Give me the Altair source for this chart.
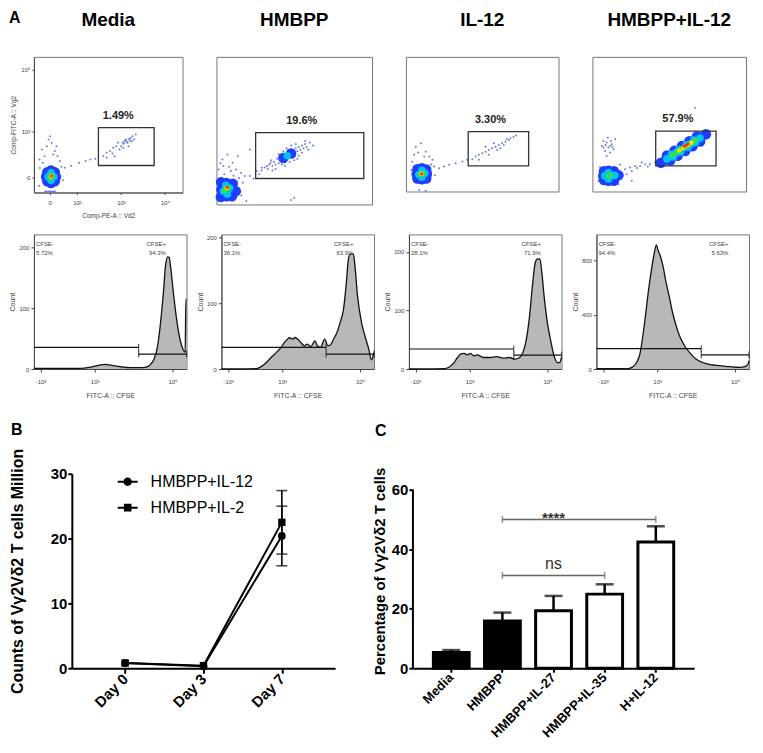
import altair as alt
import pandas as pd

FONT = "Liberation Sans"

# ---------------- Panel A, top row: Vg2 vs Vd2 dot plots (axes in % of frame) ----------------
DOT_TITLES = ["Media", "HMBPP", "IL-12", "HMBPP+IL-12"]
GATE_X1 = [43.4, 25.2, 40.8, 41.2]
GATE_X2 = [80.9, 94.7, 80.4, 80.5]
GATE_Y1 = [19.9, 17.6, 19.0, 19.0]
GATE_Y2 = [47.8, 48.6, 44.4, 44.9]
GATE_PCT = ["1.49%", "19.6%", "3.30%", "57.9%"]

DOT_TICK_X = [10.5, 29.0, 58.6, 88.2]
DOT_TICK_X_LABELS = ["0", "10²", "10³", "10⁴"]
DOT_TICK_Y = [11.0, 22.0, 44.9, 68.4, 90.4]
DOT_TICK_Y_LABELS = ["0", "10²", "10³", "10⁴", "10⁵"]

# density level 0 = single events, 1..5 = pseudo-colour density (blue -> red)
DENSITY_LEVELS = [0, 1, 2, 3, 4, 5]

P1_L0 = [(5.4, 31.7), (8.7, 34.1), (12.0, 36.6), (14.1, 30.5), (7.2, 26.8), (15.9, 26.8), (9.8, 39.0),
         (13.0, 28.0), (3.7, 24.4), (17.4, 23.2), (10.9, 41.5), (15.2, 34.1), (6.0, 22.0), (18.5, 19.0),
         (4.0, 18.0), (19.5, 9.0), (3.5, 5.0), (20.7, 18.3), (25.0, 19.5), (30.4, 22.0), (34.8, 23.2),
         (38.0, 24.4), (41.3, 24.9), (46.7, 26.8), (48.9, 29.3), (51.1, 30.5), (53.3, 32.9), (55.4, 34.1),
         (56.5, 36.6), (58.7, 34.1), (59.8, 36.6), (60.9, 37.8), (62.0, 39.0), (63.0, 36.6), (64.1, 39.5),
         (65.2, 40.2), (66.3, 41.5), (67.4, 39.0), (54.3, 26.8), (57.6, 31.7), (63.7, 34.1), (60.2, 32.9),
         (65.9, 37.8), (48.9, 25.6), (52.8, 28.8), (68.5, 42.7), (61.5, 38.5), (62.5, 37.2), (60.5, 36.0),
         (64.5, 38.2), (7.6, 0.8), (9.8, 0.8), (12.0, 0.8), (14.1, 0.8), (8.7, 0.8), (10.9, 0.8), (13.0, 0.8)]
P1_L1 = [(11.5, 11.6), (8.2, 11.6), (14.8, 11.6), (11.5, 7.0), (11.5, 16.2), (9.0, 8.3), (14.0, 8.3),
         (9.0, 15.0), (14.0, 15.0)]
P1_L2 = [(11.5, 11.6), (9.6, 11.6), (13.4, 11.6), (11.5, 9.0), (11.5, 14.4)]
P1_L3 = [(11.5, 11.6), (11.2, 10.4), (11.8, 12.8)]
P1_L4 = [(11.7, 12.0)]
P1_L5 = [(11.9, 12.2)]

P2_L0 = [(3.8, 30.5), (7.1, 33.9), (10.4, 28.2), (12.6, 23.7), (15.9, 21.4), (13.7, 32.7), (1.5, 23.7),
         (17.0, 14.7), (19.2, 2.3), (21.5, 37.2), (18.1, 19.2), (9.3, 22.6), (5.0, 20.5), (14.5, 18.0),
         (2.5, 28.0), (16.0, 6.0), (8.0, 25.5), (11.0, 19.5), (4.5, 26.0), (21.5, 19.2), (25.9, 22.6),
         (29.2, 24.8), (32.5, 26.0), (34.7, 28.2), (24.0, 17.5), (27.5, 20.5), (29, 23), (31, 25), (33, 24),
         (34, 27), (36, 26), (37, 29), (38, 27), (39, 31), (40, 28), (41, 30), (42, 33), (43, 31), (44, 29),
         (45, 34), (46, 32), (47, 35), (48, 33), (49, 36), (50, 34), (51, 38), (52, 36), (53, 39), (54, 37),
         (55, 40), (56, 38), (57, 41), (58, 39), (50, 30), (46, 37), (40, 34), (35, 30), (53, 33), (43, 36),
         (48, 40), (38, 24), (44, 26), (55, 35), (57, 43), (60, 42), (59, 37), (36, 23), (42, 27), (47, 29),
         (52, 31), (45, 38), (51, 41), (62, 40), (48, 3), (50, 4.5)]
P2_L1 = [(6.4, 10.2), (3.2, 10.0), (9.8, 10.0), (6.4, 5.5), (6.4, 14.5), (10.5, 14.0), (2.8, 5.0),
         (10.0, 5.5), (3.0, 15.0), (12.5, 9.0), (43, 31.5), (48, 34.5)]
P2_L2 = [(6.4, 10.0), (4.6, 9.0), (8.4, 11.0), (6.0, 13.0), (7.0, 7.0), (45.5, 33.0)]
P2_L3 = [(6.4, 10.5), (5.2, 9.5), (7.6, 11.2)]
P2_L4 = [(6.6, 11.2)]
P2_L5 = [(6.9, 11.6)]

P3_L0 = [(6.5, 33.3), (9.8, 35.8), (13.0, 29.6), (15.2, 25.9), (5.4, 27.2), (17.4, 23.5), (12.0, 25.9),
         (18.5, 18.5), (21.7, 17.3), (25.0, 18.5), (28.3, 19.8), (32.6, 21.0), (37.0, 22.2), (40.2, 23.5),
         (8.7, 1.2), (13.0, 0.6), (4.0, 22.0), (16.5, 20.0), (8.0, 29.0), (3.5, 16.0), (19.0, 12.0),
         (43.5, 24.0), (45.7, 25.9), (47.8, 27.2), (50.0, 28.4), (52.2, 29.6), (54.3, 30.9), (56.5, 32.1),
         (58.7, 33.3), (60.9, 34.6), (63.0, 35.8), (65.2, 37.0), (67.4, 38.3), (68.5, 39.5), (47.8, 23.5),
         (54.3, 27.2), (59.8, 30.9), (62.0, 32.1), (64.1, 34.6), (52.2, 33.3), (57.6, 35.8), (70.5, 40.5),
         (72.0, 41.5), (66.0, 39.0)]
P3_L1 = [(10.4, 13.1), (7.0, 13.0), (13.8, 13.0), (10.4, 9.0), (10.4, 17.3), (13.3, 16.3), (7.5, 9.6),
         (13.3, 9.6), (7.5, 16.6)]
P3_L2 = [(10.4, 13.1), (8.5, 12.6), (12.3, 13.6), (10.4, 10.6), (10.4, 15.6)]
P3_L3 = [(10.4, 13.1), (9.5, 12.6), (11.3, 13.6)]
P3_L4 = [(10.2, 13.2)]
P3_L5 = [(10.3, 13.1)]

P4_L0 = [(7.2, 37.5), (9.3, 36.3), (12.6, 35.1), (10.4, 32.6), (8.2, 30.1), (13.7, 31.4), (11.5, 28.9),
         (6.1, 33.8), (14.8, 38.8), (9.3, 26.4), (7.2, 32.6), (12.1, 37.5), (10.0, 40.0), (11.5, 34.0),
         (8.5, 34.5), (13.0, 33.0), (21.3, 16.5), (24.5, 17.8), (27.8, 19.0), (31.0, 19.0), (34.3, 20.2),
         (37.5, 20.2), (40.8, 21.5), (25.6, 15.3), (32.1, 21.5), (22.3, 12.8), (19.0, 14.0), (29.0, 17.5),
         (36.0, 18.5), (16.9, 5.4), (25.6, 7.9), (3.9, 7.9), (66.8, 62.2), (5.0, 18.0), (18.0, 20.0)]
P4_L1 = [(10.4, 11.6), (7.0, 11.6), (14.0, 11.6), (17.0, 12.0), (10.4, 8.0), (10.4, 15.5), (14.0, 15.0),
         (14.0, 8.0), (7.5, 8.5), (7.5, 15.0), (44.6, 21.4), (47.9, 23.7), (51.1, 26.1), (54.4, 28.4),
         (57.6, 30.8), (60.9, 33.1), (64.1, 35.5), (67.4, 37.8), (70.6, 40.2), (73.9, 42.5),
         (48.5, 26.8), (53.4, 30.3), (58.3, 33.8), (63.1, 37.4), (68.0, 40.9),
         (50.6, 23.0), (55.5, 26.5), (60.4, 30.0), (65.2, 33.6), (70.1, 37.1)]
P4_L2 = [(10.4, 11.6), (8.0, 11.6), (12.8, 11.6), (10.4, 9.2), (10.4, 14.0), (14.5, 12.0), (48.5, 24.2),
         (51.5, 26.4), (54.5, 28.6), (57.6, 30.8), (60.7, 33.0), (63.8, 35.2), (66.9, 37.4), (70.0, 39.6),
         (51.5, 27.5), (56.4, 31.1), (61.2, 34.6), (66.1, 38.1), (52.5, 25.7), (57.4, 29.3), (62.2, 32.8),
         (67.1, 36.3)]
P4_L3 = [(10.4, 11.6), (11.4, 12.0), (52.0, 27.0), (55.0, 29.2), (58.0, 31.4), (61.0, 33.6), (64.0, 35.8),
         (67.0, 38.0)]
P4_L4 = [(56.5, 30.4), (59.2, 32.4), (62.0, 34.4), (64.5, 36.2)]
P4_L5 = [(59.8, 33.6), (61.0, 34.4), (62.2, 35.2)]

# ---------------- Panel A, bottom row: CFSE histograms (x in % of frame) ----------------
HIST_TICK_X = [4.3, 21.9, 39.8, 67.1, 90.8]
HIST_TICK_X_LABELS = ["-10³", "0", "10³", "10⁴", "10⁵"]
HIST_TICK_Y_SMALL = [0, 50, 100, 150, 200]
HIST_TICK_Y_LARGE = [0, 200, 400, 600, 800]
HIST_YMAX = [222, 205, 230, 995]

H1_X = [0, 10, 20, 30, 37, 43, 46.5, 52, 58, 63, 71, 74.5, 76.5, 78.7, 80.9, 83, 85.2, 86.2, 87.7, 88.7,
        89.5, 91.6, 93.8, 95.9, 97.6, 99.1, 99.6, 100]
H1_Y = [1, 1, 1, 1, 3, 6.5, 7.5, 5.5, 3.3, 2.2, 2.2, 4, 8, 16, 36, 77, 137, 170, 185, 184, 170, 121, 77, 47,
        33, 28, 115, 115]
H2_X = [0, 10, 23, 25.2, 29.5, 32.7, 35.9, 39.1, 41.3, 43.4, 44.5, 46.7, 48.2, 49.9, 52, 54.2, 56.3, 58.5,
        61.3, 62.8, 64.9, 67.7, 69.7, 71.4, 73.5, 75.7, 77.8, 80, 81.7, 83.2, 84.3, 86.5, 87.5, 89.2, 91.8,
        94, 96.6, 98.3, 99.4, 100]
H2_Y = [0, 0, 0.5, 2.5, 10, 18, 25, 33, 40.5, 45.6, 47.6, 45.6, 48, 45.6, 40.5, 35.4, 38, 34, 43, 35.4, 33,
        45.6, 35.4, 36.5, 45.6, 55.7, 71, 91, 127, 167, 175, 175, 157, 111, 71, 50.6, 30, 14, 20, 25]
H3_X = [0, 10, 23.2, 26.4, 29.6, 31.8, 33.9, 36.1, 38.2, 40.3, 42.5, 44.6, 48.9, 53.2, 57.5, 61.8, 66.1,
        69.3, 72.5, 74.7, 76.8, 79, 81.1, 82.8, 84.3, 85.8, 87.1, 88.6, 90.8, 92.9, 95.1, 97.2, 98.7, 100]
H3_Y = [0, 0, 0.5, 3.5, 11, 19.7, 25.5, 26.7, 24.3, 26.7, 22.6, 24.3, 19.7, 19.7, 21, 18.5, 19.7, 16.8,
        19.7, 28.4, 48.7, 89, 147, 182, 188, 188, 165, 124, 78, 48.7, 22.6, 11, 11, 19.7]
H4_X = [0, 10, 21, 23.2, 26.4, 28.5, 30, 31.8, 33.9, 36.1, 37.8, 39.3, 40.3, 41.8, 43.6, 45.7, 47.9, 50,
        52.1, 54.3, 56.4, 58.6, 61.8, 65, 69.3, 74.7, 81.1, 87.6, 94, 97.2, 99.4, 100]
H4_Y = [2, 2, 3, 12, 50, 112, 212, 362, 562, 737, 850, 917, 882, 837, 762, 637, 525, 412, 325, 250, 200,
        157, 112, 75, 50, 32, 25, 17, 12, 17, 37, 62]

GATE_SPLIT = [68.6, 68.6, 68.7, 68.7]
GATE_NEG_LEVEL = [35.6, 33.0, 34.2, 150]
GATE_POS_LEVEL = [24.7, 22.8, 23.8, 105]
CFSE_NEG_PCT = ["5.72%", "36.1%", "28.1%", "94.4%"]
CFSE_POS_PCT = ["94.3%", "63.9%", "71.9%", "5.63%"]

# ---------------- Panel B ----------------
DAYS = ["Day 0", "Day 3", "Day 7"]
SERIES = ["HMBPP+IL-12", "HMBPP+IL-2"]
IL12_MEAN = [0.8, 0.3, 20.4]
IL12_SD = [0.0, 0.0, 4.6]
IL2_MEAN = [0.8, 0.4, 22.5]
IL2_SD = [0.0, 0.0, 4.9]

# ---------------- Panel C ----------------
GROUPS = ["Media", "HMBPP", "HMBPP+IL-27", "HMBPP+IL-35", "H+IL-12"]
GROUP_KIND = ["no cytokine", "no cytokine", "cytokine", "cytokine", "cytokine"]
PCT_MEAN = [5.3, 15.9, 19.3, 24.9, 42.4]
PCT_ERR = [0.8, 2.8, 5.0, 3.3, 5.3]
BRACKET_FROM = ["HMBPP", "HMBPP"]
BRACKET_TO = ["H+IL-12", "HMBPP+IL-35"]
BRACKET_Y = [50.0, 31.2]
BRACKET_LABEL = ["****", "ns"]
BRACKET_LABEL_AT = ["HMBPP+IL-27", "HMBPP+IL-27"]

# styling of the density levels (colour and dot area)
LEVEL_COLORS = ["#6a7ae8", "#1f3dff", "#00c4f4", "#3ddc4a", "#f2e600", "#ff2a00"]
LEVEL_AREA = {0: 4, 1: 110, 2: 60, 3: 30, 4: 20, 5: 10}


def label_expr(pos, labels):
    expr = "'" + labels[-1] + "'"
    for p, l in reversed(list(zip(pos[:-1], labels[:-1]))):
        expr = f"abs(datum.value - {p}) < 0.01 ? '{l}' : {expr}"
    return expr


def one_row(**kw):
    return pd.DataFrame({k: [v] for k, v in kw.items()})


DOT_LEVELS = [
    [P1_L0, P1_L1, P1_L2, P1_L3, P1_L4, P1_L5],
    [P2_L0, P2_L1, P2_L2, P2_L3, P2_L4, P2_L5],
    [P3_L0, P3_L1, P3_L2, P3_L3, P3_L4, P3_L5],
    [P4_L0, P4_L1, P4_L2, P4_L3, P4_L4, P4_L5],
]

SMALL_AX = dict(grid=False, domain=True, domainColor="#444", domainWidth=1, tickColor="#444",
                labelColor="#444", titleFontWeight="normal", titleColor="#444", labelFontSize=6,
                labelFont=FONT, labelOverlap=False, labelSeparation=-20, labelFlush=False)


def dot_panel(i, width, height):
    rows = []
    for lv, pts in enumerate(DOT_LEVELS[i]):
        for x, y in pts:
            rows.append({"x": x, "y": y, "level": lv, "area": LEVEL_AREA[lv]})
    df = pd.DataFrame(rows).sort_values("level", kind="stable")
    sx = alt.Scale(domain=[0, 100], nice=False, zero=False)
    sy = alt.Scale(domain=[0, 100], nice=False, zero=False)
    if i == 0:
        ax = alt.Axis(values=DOT_TICK_X, labelExpr=label_expr(DOT_TICK_X, DOT_TICK_X_LABELS),
                      title="Comp-PE-A :: Vd2", tickSize=2, titleFontSize=6.5, labelPadding=5, titlePadding=7,
                      **SMALL_AX)
        ay = alt.Axis(values=DOT_TICK_Y, labelExpr=label_expr(DOT_TICK_Y, DOT_TICK_Y_LABELS),
                      title="Comp-FITC-A :: Vg2", tickSize=2, titleFontSize=6.5, labelPadding=2, titlePadding=4,
                      **SMALL_AX)
    else:
        ax = None
        ay = None
    dots = alt.Chart(df).mark_circle(opacity=1).encode(
        x=alt.X("x:Q", scale=sx, axis=ax),
        y=alt.Y("y:Q", scale=sy, axis=ay),
        color=alt.Color("level:N", scale=alt.Scale(domain=DENSITY_LEVELS, range=LEVEL_COLORS), legend=None),
        size=alt.Size("area:Q", scale=None, legend=None),
        order=alt.Order("level:Q"),
    )
    gdf = one_row(x1=GATE_X1[i], x2=GATE_X2[i], y1=GATE_Y1[i], y2=GATE_Y2[i], pct=GATE_PCT[i])
    gate = alt.Chart(gdf).mark_rect(fillOpacity=0, stroke="#333", strokeWidth=1.3).encode(
        x="x1:Q", x2="x2:Q", y="y1:Q", y2="y2:Q")
    gtext = alt.Chart(gdf).transform_calculate(xm="(datum.x1 + datum.x2) / 2").mark_text(
        font=FONT, fontSize=11, fontWeight="bold", color="#222", dx=-8, dy=-12).encode(
        x="xm:Q", y="y2:Q", text="pct:N")
    title = alt.Chart(one_row(t=DOT_TITLES[i])).mark_text(
        font=FONT, fontSize=19, fontWeight="bold", color="black", baseline="alphabetic", align="center").encode(
        x=alt.value(width / 2), y=alt.value(-31), text="t:N")
    layers = [dots, gate, gtext, title]
    if i == 0:
        letter = alt.Chart(one_row(t="A")).mark_text(
            font=FONT, fontSize=16, fontWeight="bold", color="black", baseline="alphabetic", align="left").encode(
            x=alt.value(-25), y=alt.value(-34), text="t:N")
        layers.append(letter)
    return alt.layer(*layers).properties(width=width, height=height)


HIST_X = [H1_X, H2_X, H3_X, H4_X]
HIST_Y = [H1_Y, H2_Y, H3_Y, H4_Y]


def hist_panel(i, width, height):
    df = pd.DataFrame({"x": HIST_X[i], "y": HIST_Y[i]})
    sx = alt.Scale(domain=[0, 100], nice=False, zero=False)
    sy = alt.Scale(domain=[0, HIST_YMAX[i]], nice=False)
    yt = HIST_TICK_Y_LARGE if i == 3 else HIST_TICK_Y_SMALL
    ax = alt.Axis(values=HIST_TICK_X, labelExpr=label_expr(HIST_TICK_X, HIST_TICK_X_LABELS),
                  title="FITC-A :: CFSE", tickSize=3, titleFontSize=7, labelPadding=7, titlePadding=7, **SMALL_AX)
    ay = alt.Axis(values=yt, title="Count", tickSize=3, titleFontSize=7, labelPadding=2, titlePadding=3,
                  **SMALL_AX)
    area = alt.Chart(df).mark_area(color="#9a9a9a", interpolate="monotone",
                                   line=alt.OverlayMarkDef(color="#111", strokeWidth=1.3)).encode(
        x=alt.X("x:Q", scale=sx, axis=ax), y=alt.Y("y:Q", scale=sy, axis=ay))
    gdf = pd.DataFrame({"x1": [0, GATE_SPLIT[i]], "x2": [GATE_SPLIT[i], 100],
                        "y": [GATE_NEG_LEVEL[i], GATE_POS_LEVEL[i]]})
    rules = alt.Chart(gdf).mark_rule(color="#111", strokeWidth=1.2).encode(x="x1:Q", x2="x2:Q", y="y:Q")
    tdf = pd.DataFrame({"x": [GATE_SPLIT[i], GATE_SPLIT[i], 100],
                        "y": [GATE_NEG_LEVEL[i], GATE_POS_LEVEL[i], GATE_POS_LEVEL[i]]})
    ticks = alt.Chart(tdf).mark_tick(orient="vertical", size=7, thickness=1.2, color="#111").encode(
        x="x:Q", y="y:Q")
    ldf = one_row(neg="CFSE-", negp=CFSE_NEG_PCT[i], pos="CFSE+", posp=CFSE_POS_PCT[i], gap=".")
    txt = dict(font=FONT, fontSize=6, color="#444", baseline="alphabetic")
    t1 = alt.Chart(ldf).mark_text(align="left", **txt).encode(x=alt.value(2), y=alt.value(12), text="neg:N")
    t2 = alt.Chart(ldf).mark_text(align="left", **txt).encode(x=alt.value(2), y=alt.value(21), text="negp:N")
    t3 = alt.Chart(ldf).mark_text(align="right", **txt).encode(x=alt.value(width * 0.865), y=alt.value(12), text="pos:N")
    t4 = alt.Chart(ldf).mark_text(align="right", **txt).encode(x=alt.value(width * 0.865), y=alt.value(21), text="posp:N")
    layers = [area, rules, ticks, t1, t2, t3, t4]
    if i == 0:
        # transparent spacer: keeps the gap between the histogram row and panels B/C
        layers.append(alt.Chart(ldf).mark_text(fontSize=2, opacity=0, baseline="bottom").encode(
            x=alt.value(width / 2), y=alt.value(height + 37), text="gap:N"))
    return alt.layer(*layers).properties(width=width, height=height)


# ---------------- Panel B chart ----------------
rows_b = []
for s, means, sds in [(SERIES[0], IL12_MEAN, IL12_SD), (SERIES[1], IL2_MEAN, IL2_SD)]:
    for d, m, sd in zip(DAYS, means, sds):
        rows_b.append({"day": d, "series": s, "mean": m, "sd": sd, "lo": m - sd, "hi": m + sd})
df_b = pd.DataFrame(rows_b)

BOLD_AX = dict(labelFont=FONT, labelFontWeight="bold", labelColor="black", domainColor="black",
               tickColor="black", tickWidth=2, domainWidth=2, titleFont=FONT, titleFontWeight="bold",
               titleColor="black", grid=False, labelOverlap=False)

B_INSET = 38   # panel B's axes start this far right of the column's left edge
B_WIDTH = 264

xb = alt.X("day:N", scale=alt.Scale(type="point", domain=DAYS, padding=0.68, range=[B_INSET, B_INSET + B_WIDTH]),
           title=None,
           axis=alt.Axis(labelAngle=-45, labelAlign="right", labelBaseline="middle", labelFontSize=15,
                         tickSize=5, labelPadding=3, **BOLD_AX))
yb = alt.Y("mean:Q", scale=alt.Scale(domain=[0, 30], nice=False), title="Counts of Vγ2Vδ2 T cells Million",
           axis=alt.Axis(values=[0, 10, 20, 30], labelFontSize=15, titleFontSize=16, tickSize=4,
                         labelPadding=1, titlePadding=25, offset=-B_INSET, **BOLD_AX))

CIRCLE_LINE = "M-1,-0.1H1V0.1H-1Z M0,-0.42A0.42,0.42,0,1,1,0,0.42A0.42,0.42,0,1,1,0,-0.42Z"
SQUARE_LINE = "M-1,-0.1H1V0.1H-1Z M-0.38,-0.38H0.38V0.38H-0.38Z"

b_line = alt.Chart(df_b).mark_line(color="black", strokeWidth=2).encode(x=xb, y=yb, detail="series:N")
b_err = alt.Chart(df_b).transform_filter("datum.sd > 0").mark_rule(color="black", strokeWidth=1.6).encode(
    x="day:N", y="lo:Q", y2="hi:Q")
b_cap = alt.Chart(df_b).transform_filter("datum.sd > 0").transform_fold(["lo", "hi"], as_=["k", "v"]).mark_tick(
    color="black", size=11, thickness=1.6).encode(x="day:N", y="v:Q")
b_circ = alt.Chart(df_b).transform_filter(alt.datum.series == SERIES[0]).mark_circle(
    color="black", size=60, opacity=1).encode(x="day:N", y="mean:Q")
b_sq = alt.Chart(df_b).transform_filter(alt.datum.series == SERIES[1]).mark_square(
    color="black", size=55, opacity=1).encode(x="day:N", y="mean:Q")

# legend (drawn in the plot's top-left corner)
leg_df = one_row(s1=SERIES[0], s2=SERIES[1])
b_leg_s1 = alt.Chart(leg_df).mark_point(shape=CIRCLE_LINE, size=400, filled=True, color="black", opacity=1).encode(
    x=alt.value(B_INSET + 56), y=alt.value(8))
b_leg_s2 = alt.Chart(leg_df).mark_point(shape=SQUARE_LINE, size=400, filled=True, color="black", opacity=1).encode(
    x=alt.value(B_INSET + 56), y=alt.value(34))
leg_txt = dict(font=FONT, fontSize=16, color="black", align="left", baseline="middle")
b_leg_t1 = alt.Chart(leg_df).mark_text(**leg_txt).encode(x=alt.value(B_INSET + 79), y=alt.value(8), text="s1:N")
b_leg_t2 = alt.Chart(leg_df).mark_text(**leg_txt).encode(x=alt.value(B_INSET + 79), y=alt.value(34), text="s2:N")

b_letter = alt.Chart(one_row(t="B")).mark_text(font=FONT, fontSize=16, fontWeight="bold", color="black",
                                               align="left", baseline="alphabetic").encode(
    x=alt.value(B_INSET - 61), y=alt.value(-39), text="t:N")
panel_b = alt.layer(b_line, b_err, b_cap, b_circ, b_sq, b_leg_s1, b_leg_s2, b_leg_t1, b_leg_t2,
                    b_letter).properties(width=B_INSET + B_WIDTH, height=195,
                                         view=alt.ViewBackground(stroke="transparent"))

# ---------------- Panel C chart ----------------
df_c = pd.DataFrame({"group": GROUPS, "kind": GROUP_KIND, "mean": PCT_MEAN, "err": PCT_ERR})
df_c["top"] = df_c["mean"] + df_c["err"]
C_Y_TOP = 65.36  # plot area reaches above the 60 tick, as in the original

xc = alt.X("group:N", scale=alt.Scale(type="band", domain=GROUPS, paddingInner=0.3, paddingOuter=0.4), title=None,
           axis=alt.Axis(labelAngle=-45, labelAlign="right", labelBaseline="middle", labelFontSize=13,
                         tickSize=4, labelPadding=3, **BOLD_AX))
yc = alt.Y("mean:Q", scale=alt.Scale(domain=[0, C_Y_TOP], nice=False), title="Percentage of Vγ2Vδ2 T cells",
           axis=alt.Axis(values=[0, 20, 40, 60], domain=False, labelFontSize=15, titleFontSize=15, tickSize=4,
                         labelPadding=1, titlePadding=4, **BOLD_AX))

c_bar = alt.Chart(df_c).mark_bar(stroke="black", strokeWidth=3).encode(
    x=xc, y=yc, fill=alt.Fill("kind:N", scale=alt.Scale(domain=["no cytokine", "cytokine"],
                                                        range=["black", "white"]), legend=None))
c_err = alt.Chart(df_c).mark_rule(color="black", strokeWidth=2.5).encode(x="group:N", y="mean:Q", y2="top:Q")
c_cap = alt.Chart(df_c).mark_tick(color="black", size=18, thickness=2.5).encode(x="group:N", y="top:Q")
c_axis = alt.Chart(one_row(a=0)).mark_rule(color="black", strokeWidth=2).encode(
    x=alt.value(0), y=alt.datum(0), y2=alt.datum(60))
df_br = pd.DataFrame({"from": BRACKET_FROM, "to": BRACKET_TO, "y": BRACKET_Y, "label": BRACKET_LABEL,
                      "at": BRACKET_LABEL_AT})
c_br = alt.Chart(df_br).mark_rule(color="#666", strokeWidth=1.5).encode(x="from:N", x2="to:N", y="y:Q")
c_br_t = alt.Chart(df_br).transform_fold(["from", "to"], as_=["k", "g"]).mark_tick(
    orient="vertical", color="#666", size=7, thickness=1.5).encode(x="g:N", y="y:Q")
c_star = alt.Chart(df_br).transform_filter(alt.datum.label == "****").mark_text(
    font=FONT, fontSize=15, fontWeight="bold", color="#333", baseline="alphabetic", dy=4).encode(
    x="at:N", y="y:Q", text="label:N")
c_ns = alt.Chart(df_br).transform_filter(alt.datum.label == "ns").mark_text(
    font=FONT, fontSize=16, color="#333", baseline="alphabetic", dy=-6).encode(x="at:N", y="y:Q", text="label:N")
c_letter = alt.Chart(one_row(t="C")).mark_text(font=FONT, fontSize=16, fontWeight="bold", color="black",
                                               align="left", baseline="alphabetic").encode(
    x=alt.value(-38), y=alt.value(-38), text="t:N")
panel_c = alt.layer(c_bar, c_err, c_cap, c_axis, c_br, c_br_t, c_star, c_ns, c_letter).properties(
    width=282, height=195, view=alt.ViewBackground(stroke="transparent"))

# ---------------- assemble ----------------
row1 = alt.hconcat(dot_panel(0, 149, 136), dot_panel(1, 156, 148), dot_panel(2, 153, 135), dot_panel(3, 154, 135),
                   spacing=34, bounds="flush")
row2 = alt.hconcat(*[hist_panel(i, 153, 135) for i in range(4)], spacing=35, bounds="flush")
row3 = alt.hconcat(panel_b, panel_c, spacing=78, bounds="flush")

chart = alt.concat(row1, row2, row3, columns=1, spacing=14).properties(
    padding={"left": 0, "top": 0, "right": 2, "bottom": 0}
).configure(font=FONT).configure_axis(labelOverlap=False).configure_view(stroke="#777", strokeWidth=1)

chart.save("out.html", embed_options={"renderer": "svg", "actions": False})
